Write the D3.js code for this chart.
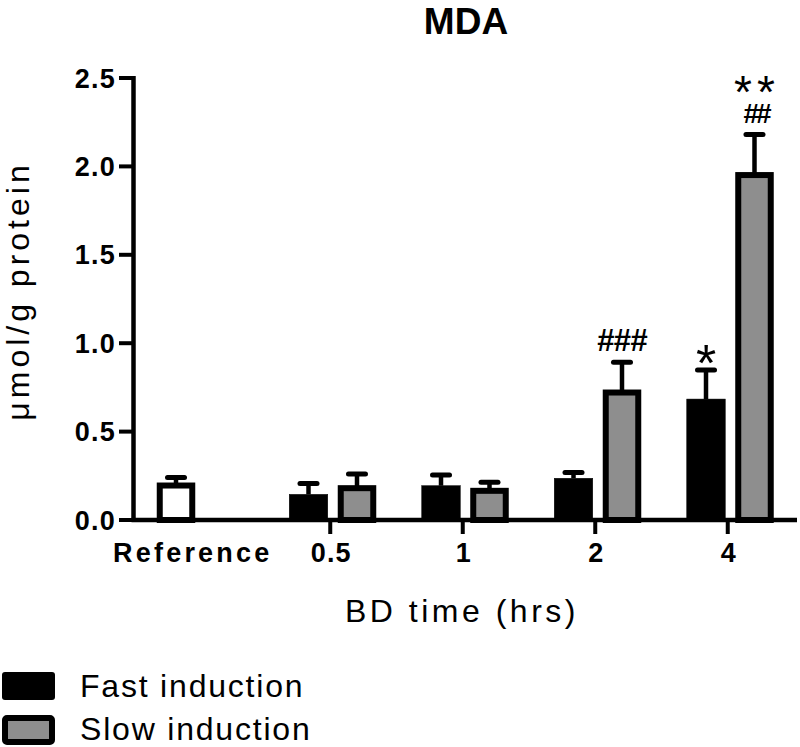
<!DOCTYPE html>
<html>
<head>
<meta charset="utf-8">
<script src="https://cdn.jsdelivr.net/npm/d3@7"></script>
<style>
  html, body { margin: 0; padding: 0; background: #fff; }
  svg { display: block; }
  text { font-family: "Liberation Sans", Arial, Helvetica, sans-serif; fill: #000; }
</style>
</head>
<body>
<svg id="chart" width="800" height="747"></svg>
<script>
// ---- data ----
const categories = ["Reference", "0.5", "1", "2", "4"];
const series = ["Fast induction", "Slow induction"];
const fastMean = [0.195, 0.145, 0.194, 0.236, 0.684];
const fastErr  = [0.045, 0.062, 0.061, 0.032, 0.164];
const slowMean = [null, 0.180, 0.165, 0.721, 1.951];
const slowErr  = [null, 0.080, 0.048, 0.171, 0.230];
const yTicks = [0, 0.5, 1.0, 1.5, 2.0, 2.5];
// significance markers: category, series index, lines from bottom to top
const markCats   = ["2", "4", "4"];
const markSeries = [1, 0, 1];
const markLines  = [["###"], ["*"], ["##", "**"]];

// ---- layout ----
const svg = d3.select("#chart");
const x = d3.scaleBand().domain(categories).range([131.5, 794]).paddingInner(0).paddingOuter(0);
const inner = d3.scaleBand().domain(series).range([0, 87]).paddingInner(0.206);
const y = d3.scaleLinear().domain([0, 2.5]).range([520, 78]);
const groupStart = c => x(c) + x.bandwidth() / 2 - 43.5 + 2.5;

const fills = ["#000000", "#8e8e8e"];
const bars = [];
categories.forEach((c, i) => {
  if (fastMean[i] != null) bars.push({cat: c, s: 0, v: fastMean[i], e: fastErr[i], ref: c === "Reference"});
  if (slowMean[i] != null) bars.push({cat: c, s: 1, v: slowMean[i], e: slowErr[i], ref: false});
});

// title
svg.append("text").attr("x", 466).attr("y", 34).attr("text-anchor", "middle")
  .attr("font-size", 37).attr("font-weight", "bold").text("MDA");

// error bars (drawn first, bar covers lower part)
const eg = svg.append("g");
bars.forEach(b => {
  const cx = groupStart(b.cat) + inner(series[b.s]) + inner.bandwidth() / 2;
  eg.append("line").attr("x1", cx).attr("x2", cx).attr("y1", y(b.v)).attr("y2", y(b.v + b.e))
    .attr("stroke", "#000").attr("stroke-width", 4.5);
  eg.append("line").attr("x1", cx - 8.5).attr("x2", cx + 8.5).attr("y1", y(b.v + b.e)).attr("y2", y(b.v + b.e))
    .attr("stroke", "#000").attr("stroke-width", 5).attr("stroke-linecap", "round");
});

// bars
const bg = svg.append("g");
bars.forEach(b => {
  const x0 = groupStart(b.cat) + inner(series[b.s]);
  const w = inner.bandwidth();
  const sw = b.s === 0 && !b.ref ? 0 : 6;
  bg.append("rect")
    .attr("x", x0 + sw / 2).attr("width", w - sw)
    .attr("y", y(b.v)).attr("height", y(0) - y(b.v))
    .attr("fill", b.ref ? "#fff" : fills[b.s])
    .attr("stroke", "#000").attr("stroke-width", sw === 0 ? 0.5 : sw);
});

// significance markers: one text element per bar, one tspan per line
markCats.forEach((c, k) => {
  const i = categories.indexOf(c);
  const s = markSeries[k];
  const top = s === 0 ? fastMean[i] + fastErr[i] : slowMean[i] + slowErr[i];
  const cx = groupStart(c) + inner(series[s]) + inner.bandwidth() / 2;
  let bottom = y(top) - 11;
  const t0 = svg.append("text").attr("text-anchor", "middle");
  markLines[k].forEach(t => {
    if (t.includes("*")) {
      const fs = t.length > 1 ? 46 : 52;
      const ls = t.length > 1 ? 5 : 0;
      t0.append("tspan").attr("x", cx + ls / 2).attr("y", bottom + 0.43 * fs)
        .attr("font-size", fs).attr("letter-spacing", ls).text(t);
      bottom -= 0.29 * fs + 15;
    } else {
      const fs = t.length > 2 ? 31 : 28;
      const ls = t.length > 2 ? -0.5 : -3;
      t0.append("tspan").attr("x", cx - ls / 2).attr("y", bottom)
        .attr("font-size", fs).attr("font-weight", "bold").attr("letter-spacing", ls).text(t);
      bottom -= 0.72 * fs + 15;
    }
  });
});

// y axis
const ya = svg.append("g");
ya.append("line").attr("x1", 133.5).attr("x2", 133.5).attr("y1", y(2.5) - 2).attr("y2", y(0) + 2)
  .attr("stroke", "#000").attr("stroke-width", 4.5);
yTicks.forEach(t => {
  ya.append("line").attr("x1", 119).attr("x2", 134).attr("y1", y(t)).attr("y2", y(t))
    .attr("stroke", "#000").attr("stroke-width", 4);
  ya.append("text").attr("x", 116).attr("y", y(t) + 9.5).attr("text-anchor", "end")
    .attr("font-size", 27).attr("font-weight", "bold").attr("letter-spacing", 1.2)
    .text(d3.format(".1f")(t));
});

// x axis
const xa = svg.append("g");
xa.append("line").attr("x1", 131.5).attr("x2", 797).attr("y1", y(0)).attr("y2", y(0))
  .attr("stroke", "#000").attr("stroke-width", 4.5);
categories.forEach(c => {
  const cx = x(c) + x.bandwidth() / 2;
  if (c !== "Reference") {
    xa.append("line").attr("x1", cx).attr("x2", cx).attr("y1", y(0)).attr("y2", y(0) + 14)
      .attr("stroke", "#000").attr("stroke-width", 4);
  }
  xa.append("text").attr("x", c === "Reference" ? cx - 5 : cx + 1).attr("y", 562).attr("text-anchor", "middle")
    .attr("font-size", 27).attr("font-weight", "bold").attr("letter-spacing", c === "Reference" ? 3.2 : 1.2)
    .text(c);
});

// axis titles
svg.append("text").attr("x", 462).attr("y", 622).attr("text-anchor", "middle")
  .attr("font-size", 32).attr("letter-spacing", 3.5).text("BD time (hrs)");
svg.append("text").attr("transform", "translate(29,291) rotate(-90)").attr("text-anchor", "middle")
  .attr("font-size", 32).attr("letter-spacing", 4).text("\u03bcmol/g protein");

// legend
const lg = svg.append("g");
series.forEach((s, i) => {
  const ly = 672 + i * 43;
  if (i === 0) {
    lg.append("rect").attr("x", 2).attr("y", ly).attr("width", 53).attr("height", 28).attr("rx", 3)
      .attr("fill", fills[0]);
  } else {
    lg.append("rect").attr("x", 5).attr("y", ly + 3).attr("width", 47).attr("height", 24).attr("rx", 2)
      .attr("fill", fills[1]).attr("stroke", "#000").attr("stroke-width", 6);
  }
  lg.append("text").attr("x", 80).attr("y", ly + 25).attr("font-size", 32).attr("letter-spacing", 1.8).text(s);
});
</script>
</body>
</html>
